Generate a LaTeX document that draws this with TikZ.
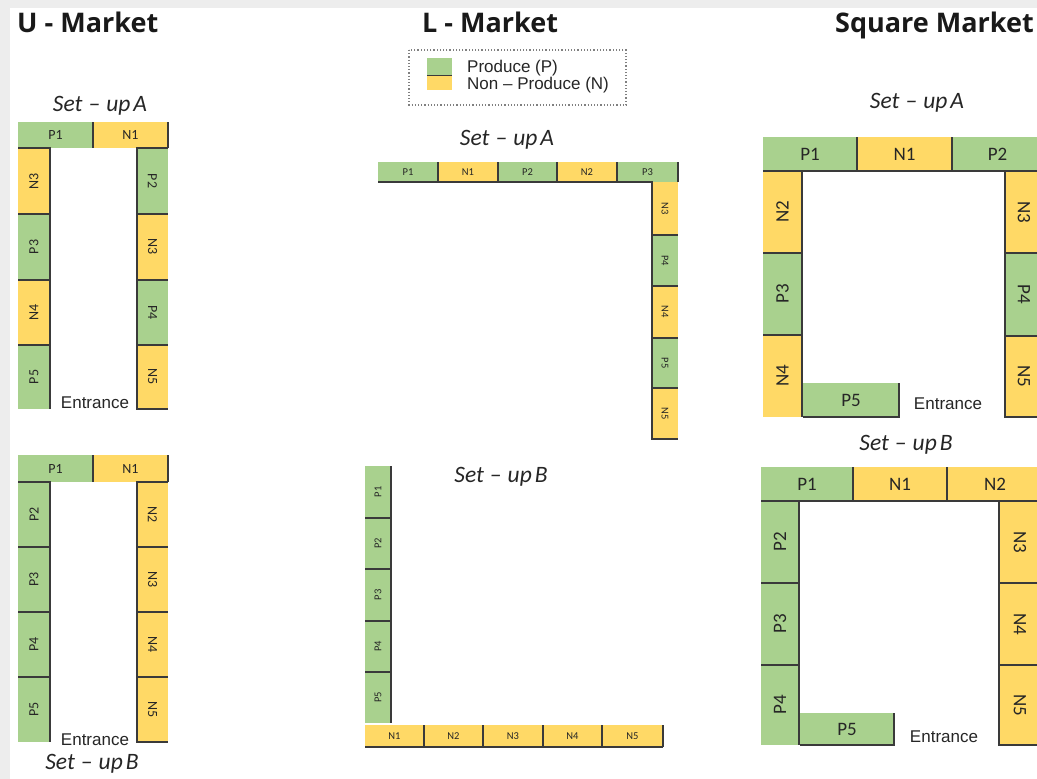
\documentclass[tikz,border=0pt]{standalone}
\usepackage{fontspec}
\setmainfont{Carlito}
\newfontfamily\titlefont{Open Sans}
\newfontfamily\arialfont{Liberation Sans}
\newfontfamily\cellfont{Carlito}
\definecolor{pgreen}{HTML}{A9D18E}
\definecolor{nyellow}{HTML}{FFD966}
\definecolor{edgecol}{HTML}{3A3A3A}
\definecolor{framegray}{HTML}{EDEDED}
\newcommand\cellbox[7]{%
  \pgfmathsetmacro\cbw{#5-#3}\pgfmathsetmacro\cbh{#6-#4}%
  \node[#2, anchor=north west, minimum width=\cbw pt, minimum height=\cbh pt] (#1) at (#3,#4) {#7};}
\newcommand\upr[1]{\rotatebox{90}{#1}}
\newcommand\dnr[1]{\rotatebox{-90}{#1}}
\newcommand\setupA{Set\hspace{6pt}–\hspace{6pt}up\hspace{3pt}A}
\newcommand\setupB{Set\hspace{6pt}–\hspace{6pt}up\hspace{3pt}B}
\tikzset{
  cellP/.style={fill=pgreen, draw=none, inner sep=0pt, outer sep=0pt, text=black!85},
  cellN/.style={fill=nyellow, draw=none, inner sep=0pt, outer sep=0pt, text=black!85},
  uf/.style={font=\cellfont\fontsize{14}{14}\selectfont},
  lf/.style={font=\cellfont\fontsize{10.5}{10.5}\selectfont},
  sf/.style={font=\cellfont\fontsize{19}{19}\selectfont},
  rim/.style={draw=edgecol, line width=1.2pt},
  title/.style={font=\titlefont\bfseries\fontsize{27}{27}\selectfont, inner sep=0pt, anchor=base west, text=black!90},
  setup/.style={font=\itshape\fontsize{23.5}{23.5}\selectfont, inner sep=0pt, anchor=base, text=black!85},
  entr/.style={font=\arialfont\fontsize{17}{17}\selectfont, inner sep=0pt, anchor=base, text=black!85},
  legtext/.style={font=\arialfont\fontsize{17}{17}\selectfont, inner sep=0pt, anchor=base west, text=black!85},
}
\begin{document}
\begin{tikzpicture}[x=1pt,y=-1pt]
\useasboundingbox (0,0) rectangle (1037,779);
\clip (0,0) rectangle (1037,779);
\fill[white] (0,0) rectangle (1037,779);
\fill[framegray] (0,0) rectangle (1037,8);
\fill[framegray] (0,0) rectangle (10,779);

% titles
\node[title] (tU) at (17,32) {U - Market};
\node[title] (tL) at (422,32) {L - Market};
\node[title] (tS) at (835,32) {Square Market};

% legend
\draw[gray, dotted, line width=1.2pt] (409,50) rectangle (626,105);
\cellbox{legP}{cellP}{427}{58}{452}{75}{}
\cellbox{legN}{cellN}{427}{75}{452}{90}{}
\draw[rim, line width=0.8pt] (legP.south west) -- (legP.south east);
\node[legtext] (legPt) at (467,72) {Produce (P)};
\node[legtext] (legNt) at (467,89) {Non – Produce (N)};

%================ U-Market Set-up A
\node[setup] (suUA) at (100,111) {\setupA};
\cellbox{uaT1}{cellP,uf}{18}{122}{93}{148}{P1}
\cellbox{uaT2}{cellN,uf}{93}{122}{168}{148}{N1}
\cellbox{uaL1}{cellN,uf}{18}{148}{50}{214}{\upr{N3}}
\cellbox{uaL2}{cellP,uf}{18}{214}{50}{280}{\upr{P3}}
\cellbox{uaL3}{cellN,uf}{18}{280}{50}{345}{\upr{N4}}
\cellbox{uaL4}{cellP,uf}{18}{345}{50}{409}{\upr{P5}}
\cellbox{uaR1}{cellP,uf}{137}{148}{168}{214}{\dnr{P2}}
\cellbox{uaR2}{cellN,uf}{137}{214}{168}{280}{\dnr{N3}}
\cellbox{uaR3}{cellP,uf}{137}{280}{168}{345}{\dnr{P4}}
\cellbox{uaR4}{cellN,uf}{137}{345}{168}{409}{\dnr{N5}}
\draw[rim] (uaT1.north east) -- (uaT1.south east);
\draw[rim] (uaT2.north east) -- (uaT2.south east);
\draw[rim] (uaL1.north west) -- (uaL1.north east) -- (uaL4.south east);
\draw[rim] (uaR1.north east) -- (uaR1.north west) -- (uaR4.south west) -- (uaR4.south east);
\foreach \i in {1,2,3}{
  \draw[rim] (uaL\i.south west) -- (uaL\i.south east);
  \draw[rim] (uaR\i.south west) -- (uaR\i.south east);
}
\node[entr] (enUA) at (95,408) {Entrance};

%================ U-Market Set-up B
\cellbox{ubT1}{cellP,uf}{18}{455}{93}{482}{P1}
\cellbox{ubT2}{cellN,uf}{93}{455}{168}{482}{N1}
\cellbox{ubL1}{cellP,uf}{18}{482}{50}{547}{\upr{P2}}
\cellbox{ubL2}{cellP,uf}{18}{547}{50}{612}{\upr{P3}}
\cellbox{ubL3}{cellP,uf}{18}{612}{50}{677}{\upr{P4}}
\cellbox{ubL4}{cellP,uf}{18}{677}{50}{742}{\upr{P5}}
\cellbox{ubR1}{cellN,uf}{137}{482}{168}{547}{\dnr{N2}}
\cellbox{ubR2}{cellN,uf}{137}{547}{168}{612}{\dnr{N3}}
\cellbox{ubR3}{cellN,uf}{137}{612}{168}{677}{\dnr{N4}}
\cellbox{ubR4}{cellN,uf}{137}{677}{168}{742}{\dnr{N5}}
\draw[rim] (ubT1.north east) -- (ubT1.south east);
\draw[rim] (ubT2.north east) -- (ubT2.south east);
\draw[rim] (ubL1.north west) -- (ubL1.north east) -- (ubL4.south east);
\draw[rim] (ubR1.north east) -- (ubR1.north west) -- (ubR4.south west) -- (ubR4.south east);
\foreach \i in {1,2,3}{
  \draw[rim] (ubL\i.south west) -- (ubL\i.south east);
  \draw[rim] (ubR\i.south west) -- (ubR\i.south east);
}
\node[entr] (enUB) at (95,745) {Entrance};
\node[setup] (suUB) at (92,769) {\setupB};

%================ L-Market Set-up A
\node[setup] (suLA) at (507,145) {\setupA};
\cellbox{laT1}{cellP,lf}{378}{162}{438}{182}{P1}
\cellbox{laT2}{cellN,lf}{438}{162}{498}{182}{N1}
\cellbox{laT3}{cellP,lf}{498}{162}{557}{182}{P2}
\cellbox{laT4}{cellN,lf}{557}{162}{617}{182}{N2}
\cellbox{laT5}{cellP,lf}{617}{162}{678}{182}{P3}
\cellbox{laR1}{cellN,lf}{652}{182}{678}{235}{\dnr{N3}}
\cellbox{laR2}{cellP,lf}{652}{235}{678}{286}{\dnr{P4}}
\cellbox{laR3}{cellN,lf}{652}{286}{678}{338}{\dnr{N4}}
\cellbox{laR4}{cellP,lf}{652}{338}{678}{388}{\dnr{P5}}
\cellbox{laR5}{cellN,lf}{652}{388}{678}{439}{\dnr{N5}}
\foreach \i in {1,...,5}{
  \draw[rim] (laT\i.north east) -- (laT\i.south east);
}
\draw[rim] (laT1.south west) -- (laR1.north west) -- (laR5.south west) -- (laR5.south east);
\foreach \i in {1,...,4}{
  \draw[rim] (laR\i.south west) -- (laR\i.south east);
}

%================ L-Market Set-up B
\node[setup] (suLB) at (501,482) {\setupB};
\cellbox{lbL1}{cellP,lf}{365}{466}{391}{518}{\upr{P1}}
\cellbox{lbL2}{cellP,lf}{365}{518}{391}{569}{\upr{P2}}
\cellbox{lbL3}{cellP,lf}{365}{569}{391}{621}{\upr{P3}}
\cellbox{lbL4}{cellP,lf}{365}{621}{391}{672}{\upr{P4}}
\cellbox{lbL5}{cellP,lf}{365}{672}{391}{723}{\upr{P5}}
\cellbox{lbB1}{cellN,lf}{365}{725}{424}{747}{N1}
\cellbox{lbB2}{cellN,lf}{424}{725}{483}{747}{N2}
\cellbox{lbB3}{cellN,lf}{483}{725}{543}{747}{N3}
\cellbox{lbB4}{cellN,lf}{543}{725}{602}{747}{N4}
\cellbox{lbB5}{cellN,lf}{602}{725}{663}{747}{N5}
\draw[rim] (lbL1.north east) -- (lbL5.south east);
\foreach \i in {1,...,4}{
  \draw[rim] (lbL\i.south west) -- (lbL\i.south east);
}
\foreach \i in {1,...,5}{
  \draw[rim] (lbB\i.north east) -- (lbB\i.south east);
}
\draw[rim] (lbB1.south west) -- (lbB5.south east);

%================ Square Market Set-up A
\node[setup] (suSA) at (917,108) {\setupA};
\cellbox{saT1}{cellP,sf}{763}{137}{857}{171}{P1}
\cellbox{saT2}{cellN,sf}{857}{137}{952}{171}{N1}
\cellbox{saT3}{cellP,sf}{952}{137}{1043}{171}{P2}
\cellbox{saL1}{cellN,sf}{763}{171}{802}{253}{\upr{N2}}
\cellbox{saL2}{cellP,sf}{763}{253}{802}{335}{\upr{P3}}
\cellbox{saL3}{cellN,sf}{763}{335}{802}{417}{\upr{N4}}
\cellbox{saP5}{cellP,sf}{803}{383}{899}{417}{P5}
\cellbox{saR1}{cellN,sf}{1005}{172}{1043}{253}{\dnr{N3}}
\cellbox{saR2}{cellP,sf}{1005}{253}{1043}{336}{\dnr{P4}}
\cellbox{saR3}{cellN,sf}{1005}{336}{1043}{417}{\dnr{N5}}
\draw[rim] (saT1.north east) -- (saT1.south east);
\draw[rim] (saT2.north east) -- (saT2.south east);
\draw[rim] (saT1.south west) -- (saT3.south east);
\draw[rim] (saL1.north east) -- (saL3.south east);
\draw[rim] (saL1.south west) -- (saL1.south east);
\draw[rim] (saL2.south west) -- (saL2.south east);
\draw[rim] (saP5.north east) -- (saP5.south east) -- (saP5.south west);
\draw[rim] (saR1.north west) -- (saR3.south west) -- (saR3.south east);
\draw[rim] (saR1.south west) -- (saR1.south east);
\draw[rim] (saR2.south west) -- (saR2.south east);
\node[entr] (enSA) at (948,409) {Entrance};

%================ Square Market Set-up B
\node[setup] (suSB) at (906,450) {\setupB};
\cellbox{sbT1}{cellP,sf}{761}{467}{853}{501}{P1}
\cellbox{sbT2}{cellN,sf}{853}{467}{947}{501}{N1}
\cellbox{sbT3}{cellN,sf}{947}{467}{1043}{501}{N2}
\cellbox{sbL1}{cellP,sf}{761}{501}{799}{583}{\upr{P2}}
\cellbox{sbL2}{cellP,sf}{761}{583}{799}{665}{\upr{P3}}
\cellbox{sbL3}{cellP,sf}{761}{665}{799}{745}{\upr{P4}}
\cellbox{sbP5}{cellP,sf}{800}{713}{894}{745}{P5}
\cellbox{sbR1}{cellN,sf}{999}{502}{1041}{583}{\dnr{N3}}
\cellbox{sbR2}{cellN,sf}{999}{583}{1041}{665}{\dnr{N4}}
\cellbox{sbR3}{cellN,sf}{999}{665}{1041}{745}{\dnr{N5}}
\draw[rim] (sbT1.north east) -- (sbT1.south east);
\draw[rim] (sbT2.north east) -- (sbT2.south east);
\draw[rim] (sbT1.south west) -- (sbT3.south east);
\draw[rim] (sbL1.north east) -- (sbL3.south east);
\draw[rim] (sbL1.south west) -- (sbL1.south east);
\draw[rim] (sbL2.south west) -- (sbL2.south east);
\draw[rim] (sbP5.north east) -- (sbP5.south east) -- (sbP5.south west);
\draw[rim] (sbR1.north west) -- (sbR3.south west) -- (sbR3.south east);
\draw[rim] (sbR1.south west) -- (sbR1.south east);
\draw[rim] (sbR2.south west) -- (sbR2.south east);
\node[entr] (enSB) at (944,742) {Entrance};
\end{tikzpicture}
\end{document}
